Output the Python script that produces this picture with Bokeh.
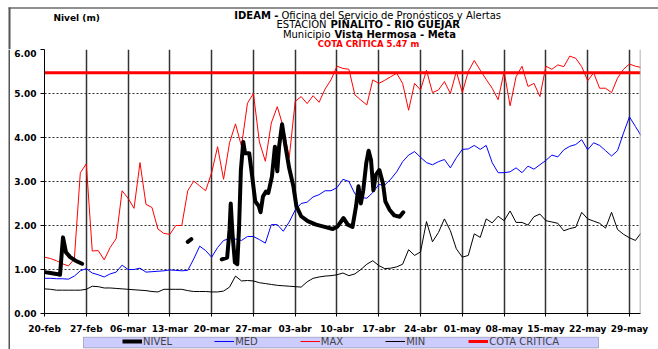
import math
from bokeh.plotting import figure
from bokeh.layouts import row, column
from bokeh.models import (Range1d, FixedTicker, Label, BoxAnnotation, Legend,
                          LegendItem, Span, PrintfTickFormatter)
from bokeh.embed import file_html
from bokeh.resources import INLINE

NAN = float("nan")

# ---------------- data ----------------
tick_dias = [0, 7, 14, 21, 28, 35, 42, 49, 56, 63, 70, 77, 84, 91, 98]
tick_etiquetas = ["20-feb", "27-feb", "06-mar", "13-mar", "20-mar", "27-mar",
                  "03-abr", "10-abr", "17-abr", "24-abr", "01-may", "08-may",
                  "15-may", "22-may", "29-may"]

dias = list(range(0, 101))

maximo = [1.28, 1.25, 1.20, 1.13, 1.08, 1.24, 3.20, 3.40, 1.42, 1.43,
          1.22, 1.50, 1.70, 2.79, 2.62, 2.39, 3.43, 2.48, 2.41, 1.92,
          1.82, 1.80, 2.00, 2.00, 2.79, 3.01, 2.90, 2.79, 3.20, 3.79,
          3.05, 3.88, 4.31, 3.80, 4.78, 5.00, 3.90, 3.46, 4.33, 4.70,
          4.24, 3.54, 4.82, 4.93, 4.77, 4.95, 4.80, 5.10, 5.31, 5.62,
          5.57, 5.55, 4.97, 4.85, 4.74, 5.31, 5.23, 5.30, 5.38, 5.46,
          5.23, 4.62, 5.23, 5.08, 5.53, 5.02, 5.08, 5.27, 5.00, 5.50,
          5.02, 5.50, 5.75, 5.53, 5.32, 5.12, 4.86, 5.50, 4.72, 5.38,
          5.62, 5.16, 5.23, 4.93, 5.62, 5.55, 5.65, 5.61, 5.85, 5.80,
          5.61, 5.29, 5.47, 5.12, 5.12, 5.02, 5.35, 5.55, 5.67, 5.62, 5.59]

medio = [0.80, 0.80, 0.79, 0.79, 0.78, 0.85, 0.97, 1.02, 0.92, 0.88,
         0.83, 0.90, 0.94, 1.10, 1.00, 1.00, 1.03, 0.94, 0.95, 0.96,
         0.97, 0.99, 0.98, 0.97, 0.98, 1.24, 1.53, 1.43, 1.28, 1.50,
         1.66, 1.70, 1.69, 1.66, 1.75, 1.75, 1.68, 1.60, 2.02, 2.02,
         1.87, 2.08, 2.35, 2.50, 2.53, 2.65, 2.70, 2.79, 2.79, 2.86,
         3.05, 3.00, 2.72, 2.64, 2.62, 2.75, 2.93, 2.92, 3.05, 3.22,
         3.45, 3.60, 3.68, 3.55, 3.43, 3.38, 3.45, 3.50, 3.31, 3.54,
         3.73, 3.74, 3.82, 3.73, 3.82, 3.43, 3.20, 3.20, 3.22, 3.31,
         3.20, 3.35, 3.28, 3.38, 3.48, 3.60, 3.56, 3.72, 3.80, 3.84,
         3.95, 3.72, 3.88, 3.82, 3.70, 3.58, 3.70, 4.10, 4.47, 4.25, 4.03]

minimo = [0.56, 0.55, 0.53, 0.53, 0.53, 0.53, 0.53, 0.55, 0.62, 0.61,
          0.58, 0.58, 0.57, 0.56, 0.55, 0.54, 0.53, 0.52, 0.50, 0.49,
          0.55, 0.55, 0.55, 0.55, 0.52, 0.50, 0.50, 0.50, 0.49, 0.49,
          0.51, 0.60, 0.85, 0.74, 0.75, 0.74, 0.70, 0.68, 0.66, 0.64,
          0.63, 0.62, 0.61, 0.60, 0.72, 0.80, 0.83, 0.85, 0.86, 0.88,
          0.92, 0.86, 0.90, 1.00, 1.12, 1.20, 1.09, 1.02, 1.03, 1.06,
          1.12, 1.45, 1.32, 1.40, 2.09, 1.63, 1.84, 2.15, 1.88, 1.47,
          1.28, 1.32, 1.81, 1.73, 2.15, 2.06, 2.21, 2.11, 2.33, 2.07,
          2.07, 2.01, 2.20, 2.26, 2.11, 2.08, 2.05, 1.88, 1.93, 1.96,
          2.30, 2.15, 2.10, 2.05, 1.94, 2.30, 1.91, 1.80, 1.72, 1.66, 1.84]

nivel_dias = [0, 1, 2, 2.6, 3.1, 3.6, 4.3, 5.2, 6.3,
              15,
              24.0, 24.6,
              27,
              29.7, 30.6, 31.0, 31.2, 31.5, 31.9, 32.3, 32.6, 32.9, 33.3, 33.6,
              34.3, 34.8, 35.3, 35.9, 36.2, 36.6, 37.1, 37.5, 38.1, 38.6, 39.0,
              39.3, 39.8, 40.3, 41.0, 41.7, 42.2, 43.0, 44.1, 45.5, 46.6, 48.3,
              49.1, 50.1, 50.8, 51.6, 52.2, 52.6, 53.0, 53.4, 53.9, 54.3, 54.7,
              55.1, 55.5, 56.1, 56.7, 57.1, 57.8, 58.6, 59.5, 60.1]
nivel_valores = [0.94, 0.92, 0.90, 0.88, 1.73, 1.39, 1.28, 1.20, 1.13,
                 NAN,
                 1.63, 1.69,
                 NAN,
                 1.23, 1.27, 1.90, 2.50, 1.80, 1.16, 1.12, 1.98, 3.26, 3.90, 3.64,
                 3.64, 3.11, 2.55, 2.44, 2.30, 2.66, 2.77, 2.74, 3.11, 3.79, 3.23,
                 3.79, 4.30, 3.86, 3.30, 2.89, 2.44, 2.21, 2.10, 2.02, 1.98, 1.92,
                 1.98, 2.17, 2.02, 1.97, 2.44, 2.89, 2.50, 2.80, 3.41, 3.70, 3.49,
                 2.80, 3.15, 3.26, 2.96, 2.55, 2.36, 2.23, 2.20, 2.30]

COTA = 5.47
X_INICIO, X_FIN = 0, 99.85
Y_INICIO, Y_FIN = 0, 6
y_ticks = [0, 1, 2, 3, 4, 5, 6]

FONT = "DejaVu Sans"
PAGE_W = 658
STRIP_W = 10
COL_W = PAGE_W - STRIP_W
TITLE_H = 49
MAIN_H = 287
LEG_H = 13
BORDER_L, BORDER_R = 34, 18        # frame: picture x 44 .. 640
FRAME_L = STRIP_W + BORDER_L
FRAME_R = PAGE_W - BORDER_R


def bare(w, h, x0=0, x1=None, bl=0, br=0):
    fig = figure(width=w, height=h, output_backend="svg", toolbar_location=None,
                 x_range=Range1d(x0, x1 if x1 is not None else w),
                 y_range=Range1d(h, 0),
                 x_axis_location=None, y_axis_location=None, min_border=0,
                 min_border_left=bl, min_border_right=br)
    fig.xgrid.visible = False
    fig.ygrid.visible = False
    fig.outline_line_color = None
    fig.background_fill_color = "white"
    fig.border_fill_color = "white"
    return fig


# ---------- title area (full width, picture coordinates) ----------
tit = bare(PAGE_W, TITLE_H)
tit.add_layout(BoxAnnotation(left=8, top=7, bottom=8, fill_color="#222222",
                             fill_alpha=1, line_color=None))
tit.add_layout(BoxAnnotation(left=8, right=10, top=7, fill_color="#555555",
                             fill_alpha=1, line_color=None))


def lbl(px, py, text, size="10px", style="normal", color="black", align="left"):
    tit.add_layout(Label(x=px, y=py, text=text, text_font=FONT,
                         text_font_size=size, text_font_style=style,
                         text_color=color, text_align=align,
                         text_baseline="middle"))


lbl(53, 17, "Nivel (m)", size="9px", style="bold")
lbl(278, 14.5, "IDEAM -", style="bold", align="right")
lbl(281, 14.5, "Oficina del Servicio de Pronósticos y Alertas")
lbl(326, 24, "ESTACIÓN", align="right")
lbl(330, 24, "PIÑALITO  - RIO GUEJAR", style="bold")
lbl(330, 33.5, "Municipio", align="right")
lbl(334, 33.5, "Vista Hermosa - Meta", style="bold")
lbl(368, 43, "COTA CRÍTICA 5.47 m", size="8.5px", style="bold",
    color="#ff0000", align="center")

# ---------- left border strip ----------
strip = bare(STRIP_W, MAIN_H + LEG_H)
strip.add_layout(BoxAnnotation(left=8, right=10, fill_color="#555555",
                               fill_alpha=1, line_color=None))

# ---------- main chart ----------
p = figure(width=COL_W, height=MAIN_H, output_backend="svg", toolbar_location=None,
           x_range=Range1d(X_INICIO, X_FIN), y_range=Range1d(Y_INICIO, Y_FIN),
           min_border_left=BORDER_L, min_border_right=BORDER_R, min_border_top=0,
           min_border_bottom=21)
p.background_fill_color = "white"
p.border_fill_color = "white"
p.outline_line_color = None

p.xaxis.ticker = FixedTicker(ticks=tick_dias)
p.xaxis.major_label_overrides = {d: l for d, l in zip(tick_dias, tick_etiquetas)}
p.yaxis.ticker = FixedTicker(ticks=y_ticks)
p.yaxis.formatter = PrintfTickFormatter(format="%.2f")
for ax in (p.xaxis, p.yaxis):
    ax.major_label_text_font = FONT
    ax.major_label_text_font_style = "bold"
    ax.major_label_text_font_size = "9px"
    ax.major_label_text_color = "black"
    ax.axis_line_color = "black"
    ax.axis_line_width = 1
    ax.major_tick_line_color = "black"
    ax.minor_tick_line_color = None
    ax.major_tick_in = 0
p.xaxis.major_tick_out = 3
p.xaxis.major_label_standoff = 7
p.yaxis.major_tick_out = 4
p.yaxis.major_label_standoff = 4

p.xgrid.grid_line_color = "#333333"
p.xgrid.grid_line_width = 1.5
p.ygrid.grid_line_color = "#333333"
p.ygrid.grid_line_dash = "2 2"
p.ygrid.grid_line_width = 1

p.add_layout(Span(location=X_FIN, dimension="height", line_color="#999999",
                  line_width=1.5))

p.line(dias, medio, line_color="#0000ff", line_width=1)
p.line(dias, maximo, line_color="#ff0000", line_width=1)
p.line(dias, minimo, line_color="black", line_width=1)
p.line(nivel_dias, nivel_valores, line_color="black", line_width=4,
       line_join="round", line_cap="round")
p.line([X_INICIO, X_FIN], [COTA, COTA], line_color="#ff0000", line_width=3)

# ---------- legend strip (frame aligned with the chart: picture x 44..640) ----------
leg = bare(COL_W, LEG_H, x0=FRAME_L, x1=FRAME_R, bl=BORDER_L, br=BORDER_R)
leg.add_layout(BoxAnnotation(left=83, right=598, top=0.5, bottom=11.5,
                             fill_color="#ccccff", fill_alpha=1,
                             line_color="#333333", line_width=1))
series_estilo = [("NIVEL", "black", 4), ("MED", "#0000ff", 1), ("MAX", "#ff0000", 1),
                 ("MIN", "black", 1), ("COTA CRITICA", "#ff0000", 3)]
items = []
for nombre, color, ancho in series_estilo:
    r = leg.line([NAN], [NAN], line_color=color, line_width=ancho)
    items.append(LegendItem(label=nombre, renderers=[r]))
legend = Legend(items=items, orientation="horizontal",
                location=(122 - FRAME_L, 2.5),
                background_fill_alpha=0, border_line_color=None,
                padding=0, margin=0, spacing=42, glyph_width=20, glyph_height=10,
                label_height=10, label_standoff=1,
                label_text_font=FONT, label_text_font_size="10px")
leg.add_layout(legend)

layout = column(tit, row(strip, column(p, leg, spacing=0), spacing=0), spacing=0)

open("out.html", "w").write(file_html(layout, INLINE))
